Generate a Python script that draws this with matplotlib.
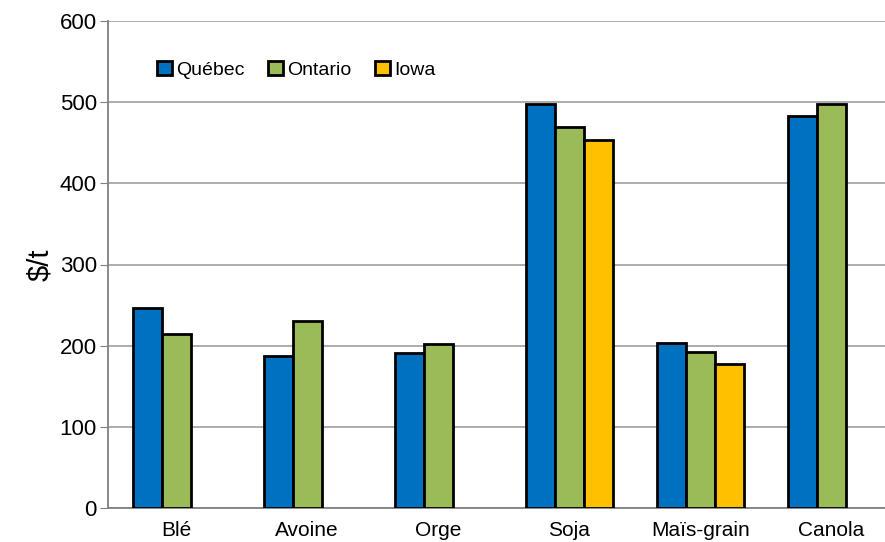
import numpy as np
import matplotlib.pyplot as plt
from matplotlib.patches import Patch

# crop prices, $/t
categories = ['Blé', 'Avoine', 'Orge', 'Soja', 'Maïs-grain', 'Canola']
quebec = [247, 187, 191, 498, 203, 483]
ontario = [214, 231, 202, 469, 192, 498]
iowa = [np.nan, np.nan, np.nan, 454, 177, np.nan]

series = ['Québec', 'Ontario', 'Iowa']
colors = ['#0070C0', '#9BBB59', '#FFC000']

plt.rcParams['font.family'] = ['Liberation Sans', 'DejaVu Sans']

fig = plt.figure(figsize=(8.85, 5.42), dpi=100)
ax = fig.add_axes([108 / 885, 34 / 542, (885 - 108) / 885, 487 / 542])

x = np.arange(len(categories))
w = 0.2214
for i, (vals, col) in enumerate(zip([quebec, ontario, iowa], colors)):
    ax.bar(x + (i - 1) * w, vals, w, color=col, edgecolor='black', linewidth=2, zorder=3)

ax.set_ylim(0, 600)
ax.set_xlim(-0.52, 5.41)
ax.set_yticks(range(0, 601, 100))
ax.set_xticks(x)
ax.set_xticklabels(categories, fontsize=15)
ax.tick_params(axis='y', labelsize=16, length=6, color='#808080', pad=2)
ax.tick_params(axis='x', length=0, pad=9)
ax.yaxis.grid(True, color='#A6A6A6', linewidth=1.3, zorder=0)

for s in ['top', 'right']:
    ax.spines[s].set_visible(False)
ax.spines['left'].set_color('#808080')
ax.spines['bottom'].set_color('#808080')
ax.spines['left'].set_linewidth(1.3)
ax.spines['bottom'].set_linewidth(1.3)

ax.set_ylabel('$/t', fontsize=21, labelpad=4)

handles = [Patch(facecolor=c, edgecolor='black', linewidth=2) for c in colors]
ax.legend(handles, series, loc='center left', bbox_to_anchor=(0.063, 0.9), ncol=3,
          frameon=False, handlelength=0.75, handleheight=0.75, handletextpad=0.25,
          columnspacing=1.2, borderpad=0, borderaxespad=0, prop={'size': 14})

fig.savefig('out.png', dpi=100)
